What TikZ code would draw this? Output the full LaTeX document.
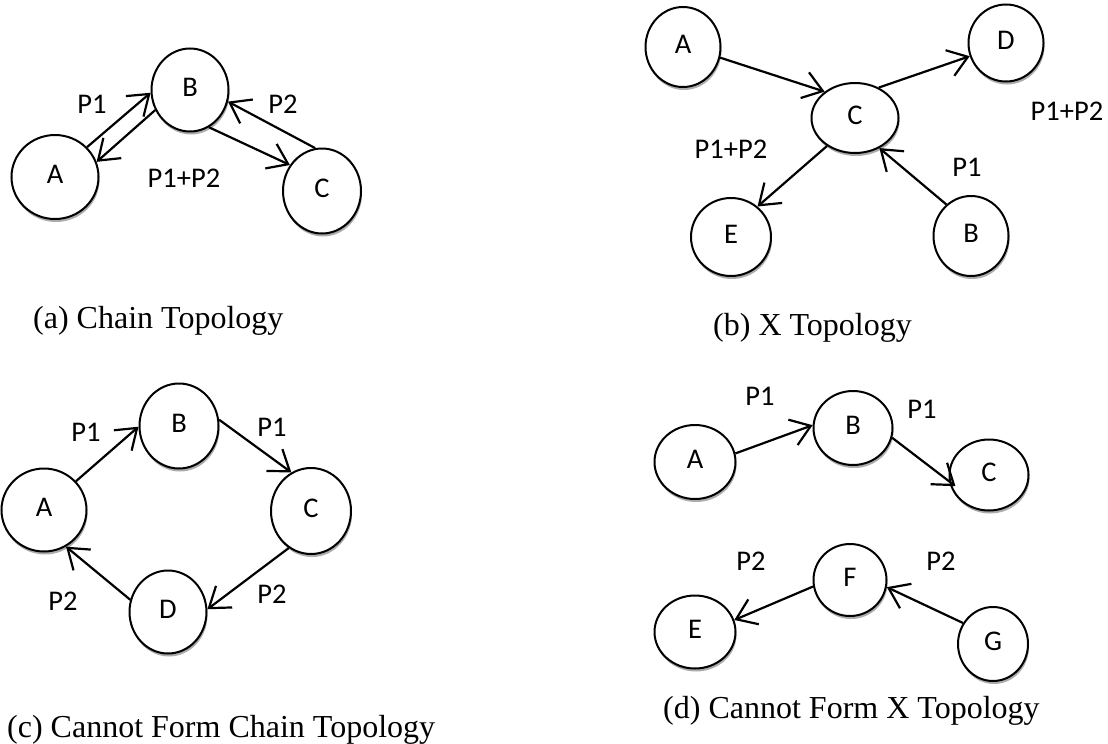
\documentclass[tikz,border=0pt]{standalone}
\usepackage{fontspec}
\setmainfont{Liberation Serif}
\newfontfamily\lblfont{Carlito}
\usetikzlibrary{shapes.geometric,arrows.meta,shadows}
\begin{document}
\begin{tikzpicture}[x=1pt,y=-1pt,
  nd/.style={ellipse, draw, line width=2pt, fill=white, inner sep=0pt, text depth=6pt,
    font=\lblfont\fontsize{28.5}{31}\selectfont,
    drop shadow={shadow xshift=1pt, shadow yshift=-3pt, fill=gray!65, opacity=1}},
  lbl/.style={font=\lblfont\fontsize{28.5}{31}\selectfont, inner sep=0pt},
  captxt/.style={font=\fontsize{32}{36}\selectfont, inner sep=0pt, anchor=west},
  arr/.style={line width=2.2pt, -{Straight Barb[length=19pt,width=27pt]}}]
\useasboundingbox (0,0) rectangle (1108,744);

% ---------- (a) Chain Topology ----------
\node[nd, minimum width=87pt, minimum height=84pt] (aA) at (55,177) {A};
\node[nd, minimum width=77pt, minimum height=83pt] (aB) at (190,90) {B};
\node[nd, minimum width=78pt, minimum height=85pt] (aC) at (322,191) {C};
\draw[arr] (aA.43) -- (aB.184);
\draw[arr] (aB.210) -- (aA.20);
\draw[arr] (aB.297) -- (aC.141);
\draw[arr] (aC.99) -- (aB.343);
\node[lbl] (aP1) at (92,104) {P1};
\node[lbl] (aP2) at (283,104) {P2};
\node[lbl] (aP12) at (184,178) {P1+P2};
\node[captxt] (capa) at (33,321) {(a) Chain Topology};

% ---------- (b) X Topology ----------
\node[nd, minimum width=75pt, minimum height=80pt] (bA) at (683,47) {A};
\node[nd, minimum width=75pt, minimum height=77pt] (bD) at (1006,43) {D};
\node[nd, minimum width=87pt, minimum height=70pt] (bC) at (855,118) {C};
\node[nd, minimum width=80pt, minimum height=78pt] (bE) at (731,237) {E};
\node[nd, minimum width=75pt, minimum height=80pt] (bB) at (971,236) {B};
\draw[arr] (bA.-16) -- (bC.139);
\draw[arr] (bC.52) -- (bD.200);
\draw[arr] (bC.225) -- (bE.49);
\draw[arr] (bB.128) -- (bC.309);
\node[lbl] (bP12a) at (731,149) {P1+P2};
\node[lbl] (bP12b) at (1067,111) {P1+P2};
\node[lbl] (bP1) at (967,167) {P1};
\node[captxt] (capb) at (713,328) {(b) X Topology};

% ---------- (c) Cannot Form Chain Topology ----------
\node[nd, minimum width=85pt, minimum height=83pt] (cA) at (44,510) {A};
\node[nd, minimum width=79pt, minimum height=85pt] (cB) at (179,426) {B};
\node[nd, minimum width=80pt, minimum height=86pt] (cC) at (311,511) {C};
\node[nd, minimum width=77pt, minimum height=83pt] (cD) at (168,612) {D};
\draw[arr] (cA.42) -- (cB.181);
\draw[arr] (cB.9) -- (cC.117);
\draw[arr] (cC.239) -- (cD.4);
\draw[arr] (cD.162) -- (cA.301);
\node[lbl] (cP1a) at (86,432) {P1};
\node[lbl] (cP1b) at (272,427) {P1};
\node[lbl] (cP2a) at (63,601) {P2};
\node[lbl] (cP2b) at (272,594) {P2};
\node[captxt] (capc) at (7,730) {(c) Cannot Form Chain Topology};

% ---------- (d) Cannot Form X Topology ----------
\node[nd, minimum width=81pt, minimum height=74pt] (dA) at (695,462) {A};
\node[nd, minimum width=79pt, minimum height=74pt] (dB) at (853,428) {B};
\node[nd, minimum width=79pt, minimum height=71pt] (dC) at (989,475) {C};
\draw[arr] (dA.12) -- (dB.176);
\draw[arr, shorten >=-8pt] (dB.346) -- (dC.189);
\node[lbl] (dP1a) at (760,396) {P1};
\node[lbl] (dP1b) at (922,409) {P1};

\node[nd, minimum width=73pt, minimum height=72pt] (dF) at (850,580) {F};
\node[nd, minimum width=81pt, minimum height=73pt] (dE) at (695,632) {E};
\node[nd, minimum width=70pt, minimum height=74pt] (dG) at (993,644) {G};
\draw[arr] (dF.190) -- (dE.17);
\draw[arr] (dG.145) -- (dF.349);
\node[lbl] (dP2a) at (751,561) {P2};
\node[lbl] (dP2b) at (941,561) {P2};
\node[captxt] (capd) at (663,711) {(d) Cannot Form X Topology};
\end{tikzpicture}
\end{document}
